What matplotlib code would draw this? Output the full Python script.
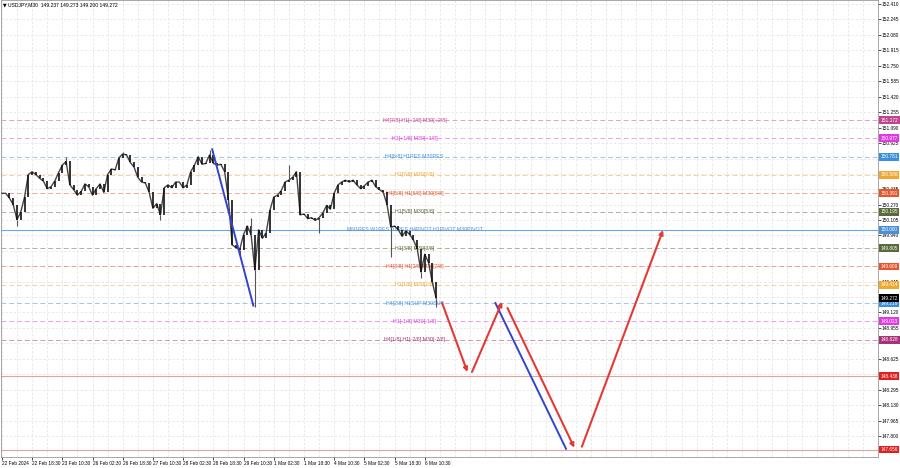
import matplotlib.pyplot as plt
import numpy as np

plt.rcParams['font.family'] = ['Liberation Sans', 'DejaVu Sans']

# USDJPY M30 chart, closes sampled per hour (bar index = hour)
closes = [150.39, 150.39, 150.34, 150.27, 150.11, 150.19, 150.35, 150.59, 150.62, 150.59,
          150.55, 150.52, 150.44, 150.46, 150.52, 150.61, 150.69, 150.73, 150.48, 150.43,
          150.37, 150.41, 150.49, 150.46, 150.37, 150.44, 150.49, 150.40, 150.59, 150.65,
          150.64, 150.77, 150.81, 150.80, 150.72, 150.67, 150.56, 150.51, 150.50, 150.40,
          150.23, 150.28, 150.16, 150.45, 150.48, 150.45, 150.51, 150.51, 150.45, 150.48,
          150.62, 150.69, 150.78, 150.70, 150.71, 150.80, 150.71, 150.69, 150.70, 150.62,
          150.32, 149.84, 149.81, 149.79, 149.95, 150.04, 149.95, 149.57, 150.00, 149.91,
          149.97, 150.21, 150.35, 150.37, 150.42, 150.51, 150.53, 150.56, 150.62, 150.16,
          150.17, 150.12, 150.13, 150.10, 150.13, 150.18, 150.26, 150.22, 150.39, 150.48,
          150.51, 150.53, 150.51, 150.53, 150.48, 150.44, 150.47, 150.51, 150.53, 150.46,
          150.43, 150.40, 150.27, 150.03, 150.04, 150.00, 149.93, 149.99, 149.95, 149.89,
          149.80, 149.55, 149.74, 149.65, 149.44, 149.272]

wick_idx = [4, 17, 32, 42, 55, 63, 66, 67, 76, 84, 103, 111, 115]
wick_px = [150.04, 150.78, 150.83, 150.105, 150.85, 149.73, 150.13, 149.18, 150.69,
           149.97, 149.71, 149.49, 149.18]

x_labels = ['22 Feb 2024', '22 Feb 18:30', '23 Feb 10:30', '26 Feb 02:30', '26 Feb 18:30',
            '27 Feb 10:30', '28 Feb 02:30', '28 Feb 18:30', '29 Feb 10:30', '1 Mar 02:30',
            '1 Mar 18:30', '4 Mar 10:30', '5 Mar 02:30', '5 Mar 18:30', '6 Mar 10:30']

y_ticks = [152.410, 152.245, 152.080, 151.915, 151.750, 151.585, 151.420, 151.255, 151.090,
           150.925, 150.760, 150.600, 150.435, 150.270, 150.105, 149.940, 149.775, 149.610,
           149.445, 149.280, 149.120, 148.955, 148.790, 148.625, 148.460, 148.295, 148.130,
           147.965, 147.800]
hidden_ticks = [150.760, 150.600, 149.775, 149.610, 149.280, 148.790]

levels = [151.172, 150.977, 150.781, 150.586, 150.391, 150.195, 150.000, 149.805, 149.609,
          149.414, 149.219, 149.023, 148.828, 148.438, 147.656]
level_names = ['H4[7/8] H1[+2/8] M30[+2/8]', 'H1[+1/8] M30[+1/8]', 'H4[6/8] H1RES M30RES',
               'H1[7/8] M30[7/8]', 'H4[5/8] H1[6/8] M30[6/8]', 'H1[5/8] M30[5/8]',
               'MN1RES W1RES D1RES H4PIVOT H1PIVOT M30PIVOT', 'H1[3/8] M30[3/8]',
               'H4[3/8] H1[2/8] M30[2/8]', 'H1[1/8] M30[1/8]', 'H4[2/8] H1SUP M30SUP',
               'H1[-1/8] M30[-1/8]', 'H4[1/8] H1[-2/8] M30[-2/8]', '', '']
level_colors = ['#c2448c', '#e03ae0', '#3c8fdc', '#f0a830', '#e4572e', '#5a6b3a', '#4a90d9',
                '#5a6b3a', '#e4572e', '#f0a830', '#3c8fdc', '#e03ae0', '#a8327a', '#e02020',
                '#e02020']

# forecast path (bar index, price)
fc_x = [116.6, 123.3, 124.5, 132.5, 133.9, 151.6, 153.6, 175.1]
fc_y = [149.219, 148.483, 148.483, 149.233, 149.166, 147.675, 147.686, 149.998]
blue_x = [[55.7, 66.6], [130.7, 149.4]]
blue_y = [[150.860, 149.191], [149.219, 147.664]]

last_price = 149.272

fig = plt.figure(figsize=(9, 4.68), dpi=100)
ax = fig.add_axes([0.001, 11 / 468, 877 / 900, 457 / 468])
ax.set_xlim(-0.26, 232)
ax.set_ylim(147.576, 152.453)

# grid
for gx in np.arange(0, 232, 4):
    ax.axvline(gx, color='#e6e6e6', lw=0.6, ls=(0, (3, 2)), zorder=0)
for gy in y_ticks:
    ax.axhline(gy, color='#e6e6e6', lw=0.6, ls=(0, (3, 2)), zorder=0)

# level lines
for p, name, c in zip(levels, level_names, level_colors):
    if p == 150.000:
        ax.axhline(p, color='#6aa8e8', lw=0.8, zorder=1)
    elif p in (148.438, 147.656):
        ax.axhline(p, color='#dba59c', lw=0.8, zorder=1)
    else:
        ax.axhline(p, color=c, lw=0.7, alpha=0.5, ls=(0, (5, 3)), zorder=1)
    if name:
        ax.text(109.3, p, name, color=c, fontsize=3.8, ha='center', va='center', zorder=3)

# price bars
xs = np.arange(len(closes))
ax.plot(xs, closes, color='#444444', lw=1.0, zorder=4)
ax.vlines(xs[1:], closes[:-1], closes[1:], color='#111111', lw=1.2, zorder=4)
ax.vlines(wick_idx, [closes[i] for i in wick_idx], wick_px, color='#555555', lw=0.8, zorder=4)

# trend lines
for bx, by in zip(blue_x, blue_y):
    ax.plot(bx, by, color='#3344cc', lw=1.4, zorder=5)

# forecast arrows
for k in range(0, len(fc_x), 2):
    ax.annotate('', xy=(fc_x[k + 1], fc_y[k + 1]), xytext=(fc_x[k], fc_y[k]),
                arrowprops=dict(arrowstyle='-|>', color='#e53935', lw=1.5,
                                mutation_scale=6, shrinkA=0, shrinkB=0), zorder=6)

# axis
ax.yaxis.tick_right()
ax.set_yticks(y_ticks)
ax.set_yticklabels(['' if t in hidden_ticks else f'{t:.3f}' for t in y_ticks])
ax.set_xticks(np.arange(0, 8 * len(x_labels), 8))
ax.set_xticklabels(x_labels, ha='left')
ax.tick_params(axis='both', labelsize=3.4, length=2, width=0.5, pad=1, colors='#000000')
for s in ax.spines.values():
    s.set_color('#999999')
    s.set_linewidth(0.6)

# price tags on the right axis
tag_prices = levels + [last_price]
tag_colors = level_colors + ['#000000']
for p, c in zip(tag_prices, tag_colors):
    ax.text(1.003, p, f'{p:.3f}', transform=ax.get_yaxis_transform(), fontsize=3.4,
            color='white', ha='left', va='center', zorder=7,
            bbox=dict(boxstyle='square,pad=0.3', fc=c, ec='none'))

fig.text(3 / 900, 1 - 5 / 468, '▼', fontsize=3.4, va='center', family='DejaVu Sans')
fig.text(8 / 900, 1 - 5 / 468, 'USDJPY,M30  149.237 149.273 149.200 149.272', fontsize=3.6,
         va='center')

fig.savefig('out.png', dpi=100)
